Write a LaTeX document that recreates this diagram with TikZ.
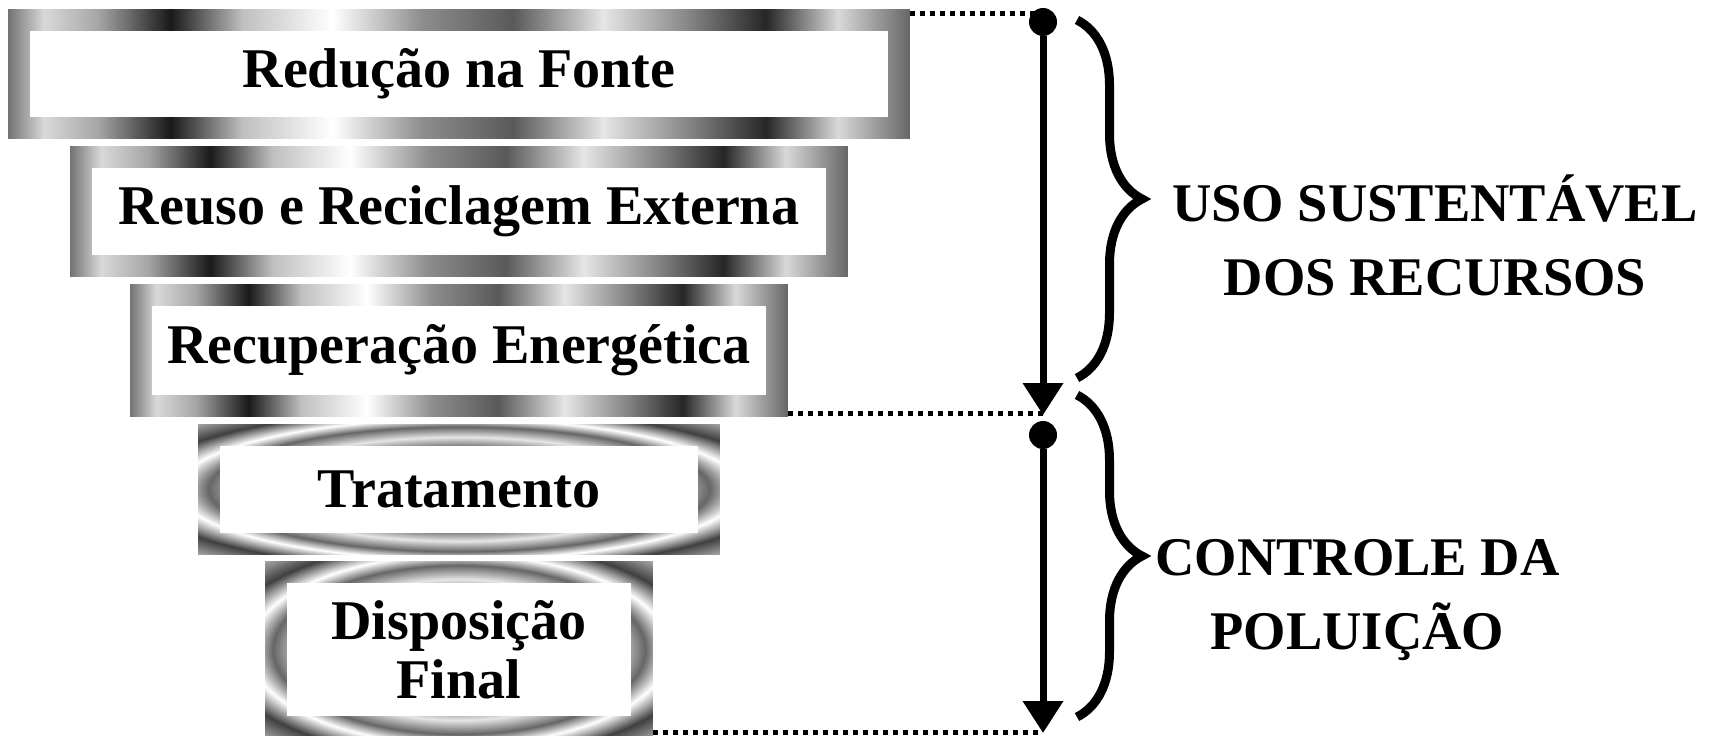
\documentclass[tikz,border=0pt]{standalone}
\usepackage{fontspec}
\setmainfont{Liberation Serif}
\usetikzlibrary{arrows.meta,%
                positioning,%
                decorations.pathreplacing}

% metallic frames
\pgfdeclarehorizontalshading{chrome}{100bp}{color(0bp)=(gray);
  color(25bp)=(black!55); color(27bp)=(white!85!black); color(30bp)=(gray!70);
  color(34bp)=(black!90); color(38bp)=(gray!50); color(43bp)=(white);
  color(48bp)=(gray!90); color(53bp)=(black!65); color(58bp)=(white!90!black);
  color(63bp)=(gray); color(67bp)=(black!85); color(71bp)=(white!85!black);
  color(75bp)=(black!60); color(100bp)=(gray)}
\pgfdeclareradialshading{rings}{\pgfpoint{0bp}{0bp}}{color(0bp)=(white);
  color(9bp)=(gray); color(15bp)=(black!70); color(20bp)=(white!90!black);
  color(24bp)=(gray!80!black); color(27bp)=(white); color(31bp)=(black!75);
  color(36bp)=(gray!60); color(50bp)=(black!70)}

\begin{document}
\begin{tikzpicture}[x=0.02cm, y=0.02cm, node distance=0.14cm,
    tier/.style={shade, shading=chrome, inner sep=0, align=center,
      font=\fontsize{31.9}{33.6}\selectfont\bfseries,
      path picture={\fill[white]
        ([shift={(0.43cm,0.43cm)}]path picture bounding box.south west) rectangle
        ([shift={(-0.43cm,-0.43cm)}]path picture bounding box.north east);}},
    ringed/.style={tier, shading=rings},
    dot/.style={circle, fill, inner sep=0, minimum size=0.56cm},
    flow/.style={line width=0.14cm, -{Triangle[width=0.78cm,length=0.64cm]}},
    leader/.style={line width=0.1cm, dash pattern=on 0.1cm off 0.1cm},
    curly/.style={decorate, decoration={brace, amplitude=1.3cm}, line width=0.18cm},
    tag/.style={inner sep=0, align=center, font=\fontsize{31}{42}\selectfont\bfseries}]

  \useasboundingbox (0,0) rectangle (1721,735);

  \node[tier, minimum width=18.04cm, minimum height=2.6cm] (b1) at (459,661) {Redução na Fonte};
  \node[tier, minimum width=15.56cm, minimum height=2.6cm] (b2) [below=of b1] {Reuso e Reciclagem Externa};
  \node[tier, minimum width=13.16cm, minimum height=2.64cm] (b3) [below=of b2] {Recuperação Energética};
  \node[ringed, minimum width=10.44cm, minimum height=2.6cm] (b4) [below=of b3] {Tratamento};
  \node[ringed, minimum width=7.76cm, minimum height=3.52cm] (b5) [below=of b4] {Disposição\\Final};

  \node[dot] (dot1) at (1043,713) {};
  \node[dot] (dot2) at (1043,300) {};
  \coordinate (end1) at (1043,320);
  \coordinate (end2) at (1043,2);

  \coordinate[below=0.1cm of b1.north east] (l1);
  \coordinate[above=0.06cm of b3.south east] (l2);
  \coordinate[above=0.12cm of b5.south east] (l3);
  \draw[leader] (l1) -- (l1 -| dot1);
  \draw[leader] (l2) -- (l2 -| end1);
  \draw[leader] (l3) -- (l3 -| end2);

  \draw[flow] (dot1) -- (end1);
  \draw[flow] (dot2) -- (end2);

  \draw[curly] (1077,715) -- (1077,357);
  \draw[curly] (1077,340) -- (1077,18);

  \node[tag, anchor=base west] (uso) at (1172,440) {USO SUSTENTÁVEL\\DOS RECURSOS};
  \node[tag, anchor=base west] (pol) at (1155,86) {CONTROLE DA\\POLUIÇÃO};
\end{tikzpicture}
\end{document}
